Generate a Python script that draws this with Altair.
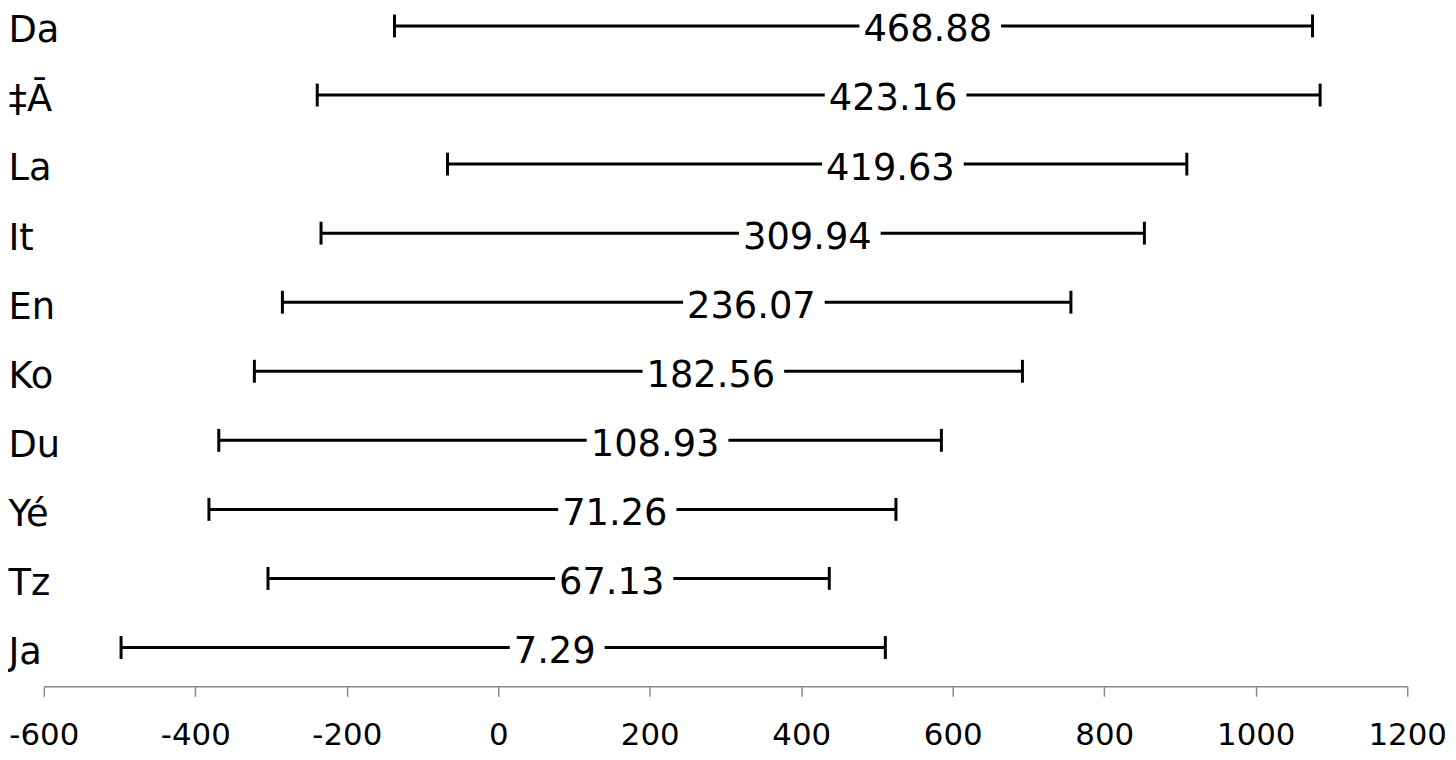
import altair as alt
import pandas as pd

# ---- data ----
categories = ["Da", "‡Ā", "La", "It", "En", "Ko", "Du", "Yé", "Tz", "Ja"]
values = [468.88, 423.16, 419.63, 309.94, 236.07, 182.56, 108.93, 71.26, 67.13, 7.29]
lows = [-137, -239, -67, -234, -285, -322, -369, -382, -304, -498]
highs = [1075, 1085, 909, 853, 756, 692, 585, 525, 437, 511]
x_ticks = [-600, -400, -200, 0, 200, 400, 600, 800, 1000, 1200]

df = pd.DataFrame({"cat": categories, "value": values, "low": lows, "high": highs})

FONT = "DejaVu Sans"
FS = 37
X_DOMAIN = [-600, 1200]
PLOT_W, PLOT_H = 1371, 680
PX_PER_UNIT = PLOT_W / (X_DOMAIN[1] - X_DOMAIN[0])

xscale = alt.Scale(domain=X_DOMAIN, nice=False, zero=False)
xaxis = alt.Axis(
    values=x_ticks, title=None, grid=False,
    domainColor="#8a8a8a", domainWidth=1.5,
    tickColor="#8a8a8a", tickWidth=1.5, tickSize=10,
    labelFontSize=31, labelFont=FONT, labelColor="black",
    labelPadding=25, labelFlush=False, labelOverlap=False,
    labelExpr="'' + datum.value",
)
yscale = alt.Scale(type="point", range=[16, 641], padding=0)
yaxis = alt.Axis(
    title=None, domain=False, ticks=False, tickSize=0,
    labelAlign="left", labelPadding=36, labelBaseline="alphabetic",
    labelOffset=16, labelFontSize=FS, labelFont=FONT, labelColor="black",
)


def Y():
    return alt.Y("cat:N", sort=categories, scale=yscale, axis=yaxis)


base = alt.Chart(df)

rules = base.mark_rule(strokeWidth=3, color="black").encode(
    x=alt.X("low:Q", scale=xscale, axis=xaxis),
    x2="high:Q",
    y=Y(),
)

caps = base.transform_fold(["low", "high"], as_=["end", "pos"]).mark_tick(
    thickness=3, size=23, color="black", opacity=1
).encode(
    x=alt.X("pos:Q", scale=xscale, axis=xaxis),
    y=Y(),
)

# white box behind each value label (gap in the line)
boxes = base.transform_calculate(
    lbl="format(datum.value, '.2f')",
).transform_calculate(
    box_start=f"datum.value + 6 / {PX_PER_UNIT}",
    box_end=f"datum.value + (10 + {FS} * (0.636 * length(datum.lbl) - 0.318) + 9) / {PX_PER_UNIT}",
).mark_bar(color="white", size=12, opacity=1).encode(
    x=alt.X("box_start:Q", scale=xscale, axis=xaxis),
    x2="box_end:Q",
    y=Y(),
)

labels = base.mark_text(
    align="left", baseline="alphabetic", dx=10, dy=15.5,
    fontSize=FS, font=FONT, color="black",
).encode(
    x=alt.X("value:Q", scale=xscale, axis=xaxis),
    y=Y(),
    text=alt.Text("value:Q", format=".2f"),
)

chart = (
    alt.layer(rules, caps, boxes, labels)
    .properties(
        width=PLOT_W, height=PLOT_H,
        padding={"left": 36, "top": 0, "right": 41, "bottom": 64},
        autosize=alt.AutoSizeParams(type="none"),
        background="white",
    )
    .configure_view(stroke=None)
)

chart.save("out.html", embed_options={"renderer": "svg", "actions": False})
